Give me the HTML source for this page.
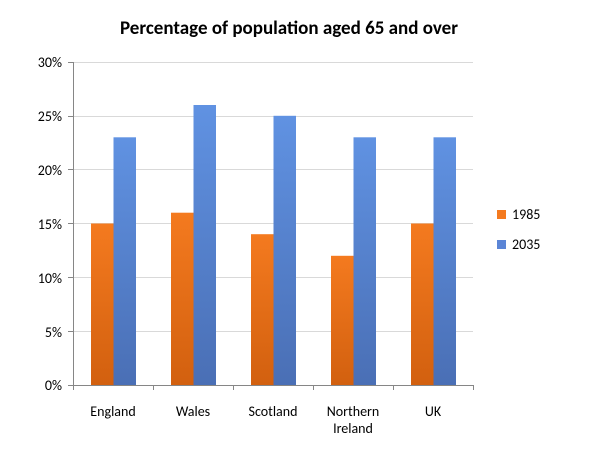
<!DOCTYPE html><html><head><style>body{margin:0;background:#fff;}svg{display:block}</style></head><body>
<svg width="602" height="461" xmlns="http://www.w3.org/2000/svg" font-family="Calibri,'Liberation Sans',sans-serif">
<defs>
<linearGradient id="o" x1="0" y1="0" x2="0" y2="1"><stop offset="0" stop-color="#f47a1f"/><stop offset="1" stop-color="#d2600f"/></linearGradient>
<linearGradient id="b" x1="0" y1="0" x2="0" y2="1"><stop offset="0" stop-color="#6092e2"/><stop offset="1" stop-color="#4a6fb5"/></linearGradient>
</defs>
<text x="289" y="34" text-anchor="middle" font-size="19" font-weight="bold" fill="#000">Percentage of population aged 65 and over</text>
<g stroke="#d9d9d9" stroke-width="1">
<line x1="73" x2="473" y1="62.5" y2="62.5"/><line x1="73" x2="473" y1="116.5" y2="116.5"/><line x1="73" x2="473" y1="169.5" y2="169.5"/><line x1="73" x2="473" y1="223.5" y2="223.5"/><line x1="73" x2="473" y1="277.5" y2="277.5"/><line x1="73" x2="473" y1="331.5" y2="331.5"/>
</g>
<g font-size="14" fill="#000" text-anchor="end">
<text x="62" y="67">30%</text><text x="62" y="121">25%</text><text x="62" y="175">20%</text><text x="62" y="229">15%</text><text x="62" y="283">10%</text><text x="62" y="337">5%</text><text x="62" y="390">0%</text>
</g>
<g>
<rect x="91" y="223.5" width="22.5" height="161.5" fill="url(#o)"/><rect x="113.5" y="137.3" width="22.5" height="247.7" fill="url(#b)"/>
<rect x="171" y="212.7" width="22.5" height="172.3" fill="url(#o)"/><rect x="193.5" y="105" width="22.5" height="280" fill="url(#b)"/>
<rect x="251" y="234.2" width="22.5" height="150.8" fill="url(#o)"/><rect x="273.5" y="115.8" width="22.5" height="269.2" fill="url(#b)"/>
<rect x="331" y="255.8" width="22.5" height="129.2" fill="url(#o)"/><rect x="353.5" y="137.3" width="22.5" height="247.7" fill="url(#b)"/>
<rect x="411" y="223.5" width="22.5" height="161.5" fill="url(#o)"/><rect x="433.5" y="137.3" width="22.5" height="247.7" fill="url(#b)"/>
</g>
<g stroke="#868686" stroke-width="1">
<line x1="73.5" x2="73.5" y1="62" y2="385"/>
<line x1="73" x2="473" y1="385.5" y2="385.5"/>
<line x1="68" x2="73" y1="62.5" y2="62.5"/><line x1="68" x2="73" y1="116.5" y2="116.5"/><line x1="68" x2="73" y1="169.5" y2="169.5"/><line x1="68" x2="73" y1="223.5" y2="223.5"/><line x1="68" x2="73" y1="277.5" y2="277.5"/><line x1="68" x2="73" y1="331.5" y2="331.5"/><line x1="68" x2="73" y1="385.5" y2="385.5"/>
<line x1="73.5" x2="73.5" y1="385" y2="390"/><line x1="153.5" x2="153.5" y1="385" y2="390"/><line x1="233.5" x2="233.5" y1="385" y2="390"/><line x1="313.5" x2="313.5" y1="385" y2="390"/><line x1="393.5" x2="393.5" y1="385" y2="390"/><line x1="473.5" x2="473.5" y1="385" y2="390"/>
</g>
<g font-size="14" fill="#000" text-anchor="middle">
<text x="113" y="416">England</text><text x="193" y="416">Wales</text><text x="273" y="416">Scotland</text><text x="353" y="416">Northern</text><text x="353" y="433">Ireland</text><text x="433" y="416">UK</text>
</g>
<rect x="497" y="210" width="9" height="9" fill="#f47a1f"/><text x="512" y="219" font-size="14">1985</text>
<rect x="497" y="240" width="9" height="9" fill="#5b85d6"/><text x="512" y="249" font-size="14">2035</text>
</svg>
</body></html>
